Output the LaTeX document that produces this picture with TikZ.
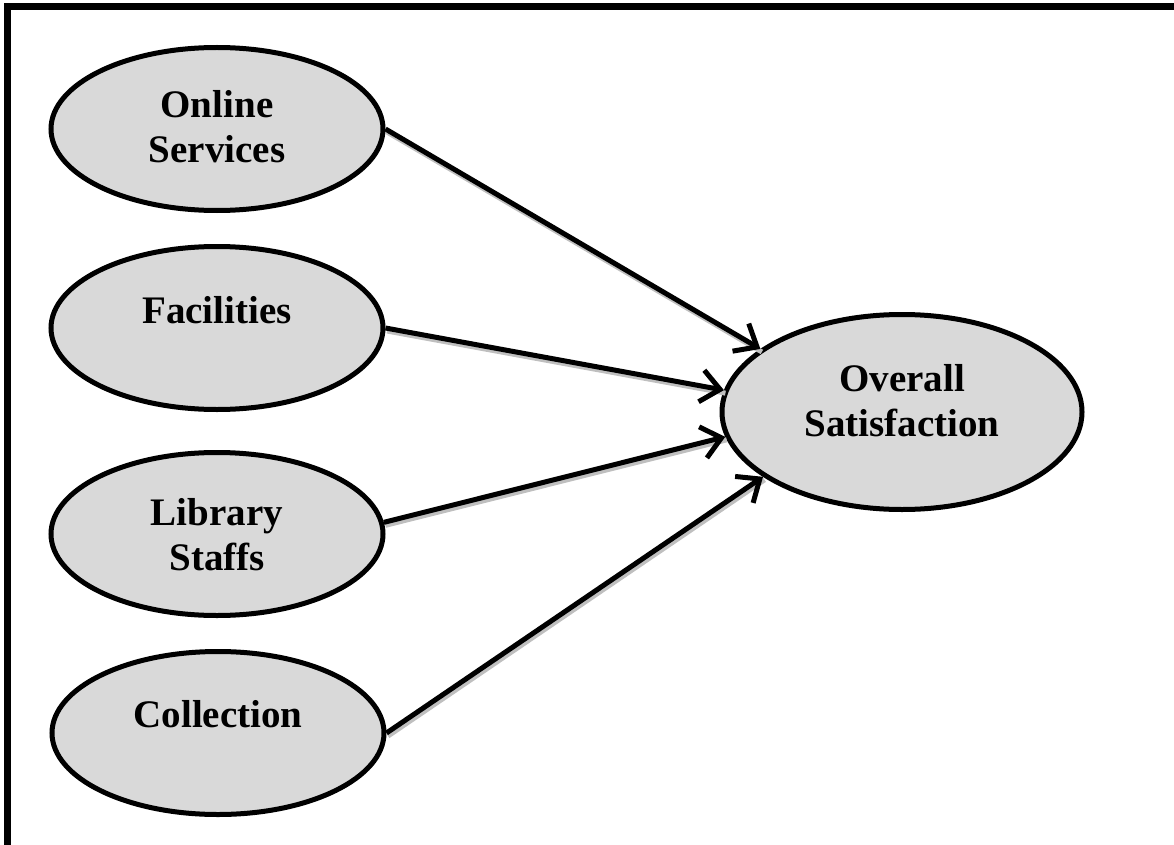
\documentclass[tikz,border=0pt]{standalone}
\usepackage{fontspec}
\setmainfont{Liberation Serif}
\usetikzlibrary{arrows.meta,shapes.geometric}

\tikzset{
  factor/.style={ellipse, draw=black, line width=5pt, fill=black!15,
    minimum width=332pt, minimum height=163pt, inner sep=0pt},
  outcome/.style={factor, minimum width=360pt, minimum height=195pt},
  caption/.style={inner sep=0pt, align=center,
    font=\fontsize{39}{45}\selectfont\bfseries},
  link/.style={line width=5pt, draw=black,
    -{Straight Barb[length=19pt, width=32pt, line width=5pt]}},
  linkshade/.style={line width=5pt, draw=black!25,
    transform canvas={shift={(1.5pt,-3pt)}}},
  frameline/.style={line width=7pt, draw=black, line cap=rect}
}

\begin{document}
\begin{tikzpicture}[x=1pt, y=-1pt]
  \useasboundingbox (0,0) rectangle (1174,845);

  % open frame: top and left rules only
  \draw[frameline] (7.5,900) -- (7.5,7) -- (1200,7);

  % predictor ellipses
  \node[factor] (os) at (217,129) {};
  \node[factor] (fa) at (217,328) {};
  \node[factor] (ls) at (217,534) {};
  \node[factor] (co) at (218,733) {};

  % outcome ellipse
  \node[outcome] (ov) at (902,412) {};

  % labels
  \node[caption] (tos) at (217,127) {Online\\Services};
  \node[caption] (tfa) at (217,310) {Facilities};
  \node[caption] (tls) at (217,535) {Library\\Staffs};
  \node[caption] (tco) at (218,714) {Collection};
  \node[caption] (tov) at (902,401) {Overall\\Satisfaction};

  % soft shading under the paths
  \draw[linkshade] (os.east) -- (ov.156.8);
  \draw[linkshade] (fa.east) -- (ov.173);
  \draw[linkshade] (ls.4) -- (ov.188);
  \draw[linkshade] (co.east) -- (ov.205.4);

  % paths into overall satisfaction
  \draw[link] (os.east) -- (ov.156.8);
  \draw[link] (fa.east) -- (ov.173);
  \draw[link] (ls.4) -- (ov.188);
  \draw[link] (co.east) -- (ov.205.4);
\end{tikzpicture}
\end{document}
